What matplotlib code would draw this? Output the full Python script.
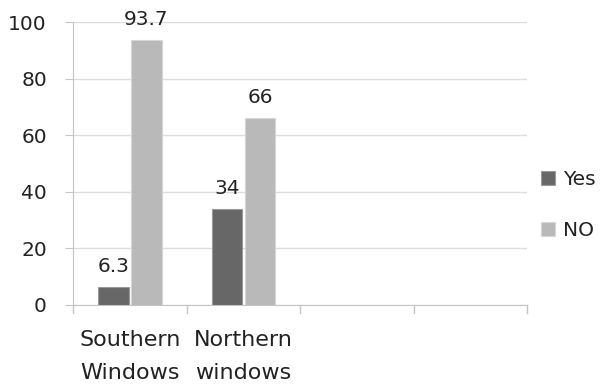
import matplotlib.pyplot as plt
import numpy as np

plt.rcParams['font.family'] = ['DejaVu Sans']

# categories (last two slots are empty in the chart)
categories = ['Southern\nWindows', 'Northern\nwindows', '', '']
yes_vals = [6.3, 34]
no_vals = [93.7, 66]
series_names = ['Yes', 'NO']
yticks = [0, 20, 40, 60, 80, 100]

fs = 14.5
fig = plt.figure(figsize=(6.06, 3.87), dpi=100)
ax = fig.add_axes([0.121, 0.212, 0.749, 0.731])

x = np.arange(len(yes_vals))
w = 0.27
b1 = ax.bar(x - w / 2 - 0.01, yes_vals, w, color='#676767', edgecolor='#9a9a9a',
            linewidth=0.8, label=series_names[0], zorder=3)
b2 = ax.bar(x + w / 2 + 0.01, no_vals, w, color='#b9b9b9', edgecolor='#d6d6d6',
            linewidth=0.8, label=series_names[1], zorder=3)

for bars, vals in ((b1, yes_vals), (b2, no_vals)):
    for r, v in zip(bars, vals):
        ax.text(r.get_x() + r.get_width() / 2, v + 3.8, f'{v:g}',
                ha='center', va='bottom', fontsize=fs, color='#222222', zorder=4)

ax.set_xlim(-0.5, len(categories) - 0.5)
ax.set_ylim(0, 100)
ax.set_yticks(yticks)
ax.tick_params(axis='y', labelsize=fs, length=6, color='#c4c4c4', pad=13,
               labelcolor='#222222')
ax.yaxis.grid(True, color='#dcdcdc', linewidth=1, zorder=0)

# category labels centred in slots, tick marks on the slot borders
ax.set_xticks(np.arange(len(categories)))
ax.set_xticklabels(categories, fontsize=16, linespacing=1.8, color='#222222')
ax.tick_params(axis='x', length=0, pad=18)
for xb in np.arange(len(categories) + 1) - 0.5:
    ax.plot([xb, xb], [0, -3], color='#c4c4c4', lw=1, clip_on=False)

for s in ['top', 'right']:
    ax.spines[s].set_visible(False)
ax.spines['left'].set_color('#c4c4c4')
ax.spines['bottom'].set_color('#c4c4c4')

ax.legend(loc='center left', bbox_to_anchor=(0.99, 0.352), frameon=False,
          fontsize=fs, handlelength=0.7, handleheight=0.7, handletextpad=0.4,
          labelspacing=1.6, labelcolor='#222222')

fig.savefig('out.png', dpi=100)
